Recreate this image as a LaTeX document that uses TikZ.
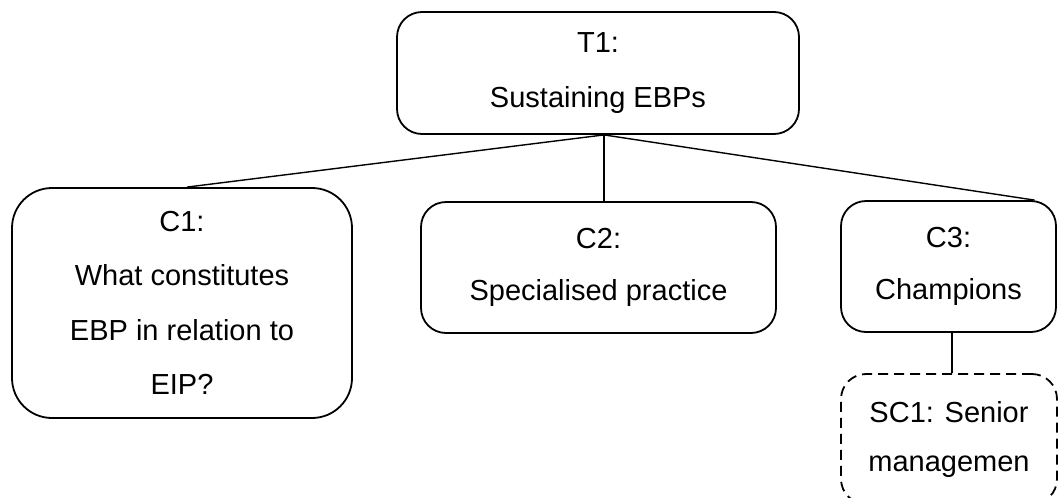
\documentclass[tikz,border=0pt]{standalone}
\usepackage{fontspec}
\setmainfont{Liberation Sans}
\begin{document}
\begin{tikzpicture}[x=1pt,y=-1pt,
  box/.style={draw, line width=1.8pt, rounded corners=25pt, inner sep=0pt,
    align=center, font=\fontsize{29}{54.5}\selectfont},
  subbox/.style={box, dashed, dash pattern=on 10pt off 6pt},
  link/.style={line width=1.4pt}]
\clip (0,0) rectangle (1058,498);
\useasboundingbox (0,0) rectangle (1058,498);
\fill[white] (0,0) rectangle (1058,498);

% top theme
\node[box, minimum width=402pt, minimum height=122pt] (T1) at (598,73)
  {T1:\\Sustaining EBPs};

% categories
\node[box, rounded corners=40pt, minimum width=340pt, minimum height=230pt] (C1) at (182,303)
  {C1:\\What constitutes\\EBP in relation to\\EIP?};
\node[box, font=\fontsize{29}{52}\selectfont, minimum width=355pt, minimum height=131pt] (C2) at (598.5,267.5)
  {C2:\\Specialised practice};
\node[box, font=\fontsize{29}{52}\selectfont, minimum width=215pt, minimum height=131pt] (C3) at (948.5,266.5)
  {C3:\\Champions};

% sub-category
\node[subbox, font=\fontsize{29}{49}\selectfont, minimum width=216pt, minimum height=130pt] (SC1) at (949,439)
  {SC1: Senior\\managemen};

% connectors
\coordinate (hub) at ([xshift=6pt]T1.south);
\draw[link] (hub) -- ([xshift=5pt]C1.north);
\draw[link] (hub) -- ([xshift=5.5pt]C2.north);
\draw[link] (hub) -- ([xshift=86pt]C3.north);
\draw[link] ([xshift=3.5pt]C3.south) -- ([xshift=3pt]SC1.north);
\end{tikzpicture}
\end{document}
